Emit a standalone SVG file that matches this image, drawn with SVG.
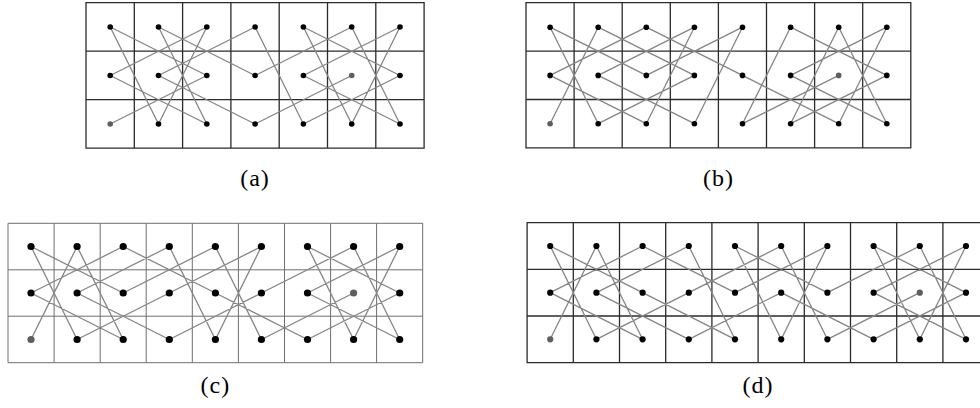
<svg xmlns="http://www.w3.org/2000/svg" width="980" height="408" viewBox="0 0 980 408">
<style>
.grid{fill:none;stroke:#2b2b2b;stroke-width:1.3}
.gridc{fill:none;stroke:#6e6e6e;stroke-width:1}
.tour{fill:none;stroke:#858585;stroke-width:1.3;stroke-linejoin:round}
.dot{fill:#000}
.end{fill:#5e5e5e}
.lbl{font-family:"Liberation Serif","DejaVu Serif",serif;font-size:24px;letter-spacing:1px;fill:#000;text-anchor:middle}
</style>
<rect width="980" height="408" fill="#fff"/>
<g id="grids">
<path class="grid" d="M86 2.7H424.1V148.2H86Z M134.3 2.7V148.2 M182.6 2.7V148.2 M230.9 2.7V148.2 M279.2 2.7V148.2 M327.5 2.7V148.2 M375.8 2.7V148.2 M86 51.2H424.1 M86 99.7H424.1"/>
<path class="grid" d="M526 2.7H910.8V147.9H526Z M574.1 2.7V147.9 M622.2 2.7V147.9 M670.3 2.7V147.9 M718.4 2.7V147.9 M766.5 2.7V147.9 M814.6 2.7V147.9 M862.7 2.7V147.9 M526 51.1H910.8 M526 99.5H910.8"/>
<path class="gridc" d="M8 223.3H422.7V362.7H8Z M54.1 223.3V362.7 M100.2 223.3V362.7 M146.2 223.3V362.7 M192.3 223.3V362.7 M238.4 223.3V362.7 M284.5 223.3V362.7 M330.6 223.3V362.7 M376.6 223.3V362.7 M8 269.8H422.7 M8 316.2H422.7"/>
<path class="grid" d="M527.1 222.7H989.1V362.7H527.1Z M573.3 222.7V362.7 M619.5 222.7V362.7 M665.7 222.7V362.7 M711.9 222.7V362.7 M758.1 222.7V362.7 M804.3 222.7V362.7 M850.5 222.7V362.7 M896.7 222.7V362.7 M942.9 222.7V362.7 M527.1 269.4H989.1 M527.1 316H989.1"/>
</g>
<g id="connectors">
<polyline id="tour-a" class="tour" points="110.2,124 206.8,75.5 110.2,27 158.5,124 206.8,27 110.2,75.5 206.8,124 158.5,27 255.1,75.5 351.7,27 400,124 303.4,75.5 400,27 351.7,124 303.4,27 400,75.5 303.4,124 255.1,27 158.5,75.5 255.1,124 351.7,75.5"/>
<polyline id="tour-b" class="tour" points="550.1,123.7 598.2,27.2 694.4,75.4 598.2,123.7 550.1,27.2 646.3,75.4 742.5,27.2 694.4,123.7 598.2,75.4 694.4,27.2 646.3,123.7 550.1,75.4 646.3,27.2 742.5,75.4 838.7,123.7 886.8,27.2 790.6,75.4 886.8,123.7 838.7,27.2 790.6,123.7 886.8,75.4 790.6,27.2 742.5,123.7 838.7,75.4"/>
<polyline id="tour-c" class="tour" points="31,339.5 77.1,246.5 123.2,339.5 31,293 123.2,246.5 215.4,293 307.5,339.5 399.7,293 307.5,246.5 353.6,339.5 399.7,246.5 307.5,293 399.7,339.5 353.6,246.5 261.4,293 169.3,339.5 77.1,293 169.3,246.5 215.4,339.5 261.4,246.5 169.3,293 77.1,339.5 31,246.5 123.2,293 215.4,246.5 261.4,339.5 353.6,293"/>
<polyline id="tour-d" class="tour" points="550.2,339.3 596.4,246 642.6,339.3 550.2,292.7 642.6,246 735,292.7 827.4,246 781.2,339.3 735,246 827.4,292.7 919.8,246 966,339.3 873.6,292.7 966,246 919.8,339.3 873.6,246 966,292.7 873.6,339.3 781.2,292.7 688.8,339.3 596.4,292.7 688.8,246 735,339.3 642.6,292.7 550.2,246 596.4,339.3 688.8,292.7 781.2,246 827.4,339.3 919.8,292.7"/>
</g>
<g id="nodes-a">
<g id="a-r0c0"><circle class="dot" cx="110.2" cy="27" r="2.8"/></g>
<g id="a-r0c1"><circle class="dot" cx="158.5" cy="27" r="2.8"/></g>
<g id="a-r0c2"><circle class="dot" cx="206.8" cy="27" r="2.8"/></g>
<g id="a-r0c3"><circle class="dot" cx="255.1" cy="27" r="2.8"/></g>
<g id="a-r0c4"><circle class="dot" cx="303.4" cy="27" r="2.8"/></g>
<g id="a-r0c5"><circle class="dot" cx="351.7" cy="27" r="2.8"/></g>
<g id="a-r0c6"><circle class="dot" cx="400" cy="27" r="2.8"/></g>
<g id="a-r1c0"><circle class="dot" cx="110.2" cy="75.5" r="2.8"/></g>
<g id="a-r1c1"><circle class="dot" cx="158.5" cy="75.5" r="2.8"/></g>
<g id="a-r1c2"><circle class="dot" cx="206.8" cy="75.5" r="2.8"/></g>
<g id="a-r1c3"><circle class="dot" cx="255.1" cy="75.5" r="2.8"/></g>
<g id="a-r1c4"><circle class="dot" cx="303.4" cy="75.5" r="2.8"/></g>
<g id="a-r1c5"><circle class="end" cx="351.7" cy="75.5" r="2.8"/></g>
<g id="a-r1c6"><circle class="dot" cx="400" cy="75.5" r="2.8"/></g>
<g id="a-r2c0"><circle class="end" cx="110.2" cy="124" r="2.8"/></g>
<g id="a-r2c1"><circle class="dot" cx="158.5" cy="124" r="2.8"/></g>
<g id="a-r2c2"><circle class="dot" cx="206.8" cy="124" r="2.8"/></g>
<g id="a-r2c3"><circle class="dot" cx="255.1" cy="124" r="2.8"/></g>
<g id="a-r2c4"><circle class="dot" cx="303.4" cy="124" r="2.8"/></g>
<g id="a-r2c5"><circle class="dot" cx="351.7" cy="124" r="2.8"/></g>
<g id="a-r2c6"><circle class="dot" cx="400" cy="124" r="2.8"/></g>
</g>
<g id="nodes-b">
<g id="b-r0c0"><circle class="dot" cx="550.1" cy="27.2" r="2.8"/></g>
<g id="b-r0c1"><circle class="dot" cx="598.2" cy="27.2" r="2.8"/></g>
<g id="b-r0c2"><circle class="dot" cx="646.3" cy="27.2" r="2.8"/></g>
<g id="b-r0c3"><circle class="dot" cx="694.4" cy="27.2" r="2.8"/></g>
<g id="b-r0c4"><circle class="dot" cx="742.5" cy="27.2" r="2.8"/></g>
<g id="b-r0c5"><circle class="dot" cx="790.6" cy="27.2" r="2.8"/></g>
<g id="b-r0c6"><circle class="dot" cx="838.7" cy="27.2" r="2.8"/></g>
<g id="b-r0c7"><circle class="dot" cx="886.8" cy="27.2" r="2.8"/></g>
<g id="b-r1c0"><circle class="dot" cx="550.1" cy="75.4" r="2.8"/></g>
<g id="b-r1c1"><circle class="dot" cx="598.2" cy="75.4" r="2.8"/></g>
<g id="b-r1c2"><circle class="dot" cx="646.3" cy="75.4" r="2.8"/></g>
<g id="b-r1c3"><circle class="dot" cx="694.4" cy="75.4" r="2.8"/></g>
<g id="b-r1c4"><circle class="dot" cx="742.5" cy="75.4" r="2.8"/></g>
<g id="b-r1c5"><circle class="dot" cx="790.6" cy="75.4" r="2.8"/></g>
<g id="b-r1c6"><circle class="end" cx="838.7" cy="75.4" r="2.8"/></g>
<g id="b-r1c7"><circle class="dot" cx="886.8" cy="75.4" r="2.8"/></g>
<g id="b-r2c0"><circle class="end" cx="550.1" cy="123.7" r="2.8"/></g>
<g id="b-r2c1"><circle class="dot" cx="598.2" cy="123.7" r="2.8"/></g>
<g id="b-r2c2"><circle class="dot" cx="646.3" cy="123.7" r="2.8"/></g>
<g id="b-r2c3"><circle class="dot" cx="694.4" cy="123.7" r="2.8"/></g>
<g id="b-r2c4"><circle class="dot" cx="742.5" cy="123.7" r="2.8"/></g>
<g id="b-r2c5"><circle class="dot" cx="790.6" cy="123.7" r="2.8"/></g>
<g id="b-r2c6"><circle class="dot" cx="838.7" cy="123.7" r="2.8"/></g>
<g id="b-r2c7"><circle class="dot" cx="886.8" cy="123.7" r="2.8"/></g>
</g>
<g id="nodes-c">
<g id="c-r0c0"><circle class="dot" cx="31" cy="246.5" r="3.6"/></g>
<g id="c-r0c1"><circle class="dot" cx="77.1" cy="246.5" r="3.6"/></g>
<g id="c-r0c2"><circle class="dot" cx="123.2" cy="246.5" r="3.6"/></g>
<g id="c-r0c3"><circle class="dot" cx="169.3" cy="246.5" r="3.6"/></g>
<g id="c-r0c4"><circle class="dot" cx="215.4" cy="246.5" r="3.6"/></g>
<g id="c-r0c5"><circle class="dot" cx="261.4" cy="246.5" r="3.6"/></g>
<g id="c-r0c6"><circle class="dot" cx="307.5" cy="246.5" r="3.6"/></g>
<g id="c-r0c7"><circle class="dot" cx="353.6" cy="246.5" r="3.6"/></g>
<g id="c-r0c8"><circle class="dot" cx="399.7" cy="246.5" r="3.6"/></g>
<g id="c-r1c0"><circle class="dot" cx="31" cy="293" r="3.6"/></g>
<g id="c-r1c1"><circle class="dot" cx="77.1" cy="293" r="3.6"/></g>
<g id="c-r1c2"><circle class="dot" cx="123.2" cy="293" r="3.6"/></g>
<g id="c-r1c3"><circle class="dot" cx="169.3" cy="293" r="3.6"/></g>
<g id="c-r1c4"><circle class="dot" cx="215.4" cy="293" r="3.6"/></g>
<g id="c-r1c5"><circle class="dot" cx="261.4" cy="293" r="3.6"/></g>
<g id="c-r1c6"><circle class="dot" cx="307.5" cy="293" r="3.6"/></g>
<g id="c-r1c7"><circle class="end" cx="353.6" cy="293" r="3.6"/></g>
<g id="c-r1c8"><circle class="dot" cx="399.7" cy="293" r="3.6"/></g>
<g id="c-r2c0"><circle class="end" cx="31" cy="339.5" r="3.6"/></g>
<g id="c-r2c1"><circle class="dot" cx="77.1" cy="339.5" r="3.6"/></g>
<g id="c-r2c2"><circle class="dot" cx="123.2" cy="339.5" r="3.6"/></g>
<g id="c-r2c3"><circle class="dot" cx="169.3" cy="339.5" r="3.6"/></g>
<g id="c-r2c4"><circle class="dot" cx="215.4" cy="339.5" r="3.6"/></g>
<g id="c-r2c5"><circle class="dot" cx="261.4" cy="339.5" r="3.6"/></g>
<g id="c-r2c6"><circle class="dot" cx="307.5" cy="339.5" r="3.6"/></g>
<g id="c-r2c7"><circle class="dot" cx="353.6" cy="339.5" r="3.6"/></g>
<g id="c-r2c8"><circle class="dot" cx="399.7" cy="339.5" r="3.6"/></g>
</g>
<g id="nodes-d">
<g id="d-r0c0"><circle class="dot" cx="550.2" cy="246" r="3.1"/></g>
<g id="d-r0c1"><circle class="dot" cx="596.4" cy="246" r="3.1"/></g>
<g id="d-r0c2"><circle class="dot" cx="642.6" cy="246" r="3.1"/></g>
<g id="d-r0c3"><circle class="dot" cx="688.8" cy="246" r="3.1"/></g>
<g id="d-r0c4"><circle class="dot" cx="735" cy="246" r="3.1"/></g>
<g id="d-r0c5"><circle class="dot" cx="781.2" cy="246" r="3.1"/></g>
<g id="d-r0c6"><circle class="dot" cx="827.4" cy="246" r="3.1"/></g>
<g id="d-r0c7"><circle class="dot" cx="873.6" cy="246" r="3.1"/></g>
<g id="d-r0c8"><circle class="dot" cx="919.8" cy="246" r="3.1"/></g>
<g id="d-r0c9"><circle class="dot" cx="966" cy="246" r="3.1"/></g>
<g id="d-r1c0"><circle class="dot" cx="550.2" cy="292.7" r="3.1"/></g>
<g id="d-r1c1"><circle class="dot" cx="596.4" cy="292.7" r="3.1"/></g>
<g id="d-r1c2"><circle class="dot" cx="642.6" cy="292.7" r="3.1"/></g>
<g id="d-r1c3"><circle class="dot" cx="688.8" cy="292.7" r="3.1"/></g>
<g id="d-r1c4"><circle class="dot" cx="735" cy="292.7" r="3.1"/></g>
<g id="d-r1c5"><circle class="dot" cx="781.2" cy="292.7" r="3.1"/></g>
<g id="d-r1c6"><circle class="dot" cx="827.4" cy="292.7" r="3.1"/></g>
<g id="d-r1c7"><circle class="dot" cx="873.6" cy="292.7" r="3.1"/></g>
<g id="d-r1c8"><circle class="end" cx="919.8" cy="292.7" r="3.1"/></g>
<g id="d-r1c9"><circle class="dot" cx="966" cy="292.7" r="3.1"/></g>
<g id="d-r2c0"><circle class="end" cx="550.2" cy="339.3" r="3.1"/></g>
<g id="d-r2c1"><circle class="dot" cx="596.4" cy="339.3" r="3.1"/></g>
<g id="d-r2c2"><circle class="dot" cx="642.6" cy="339.3" r="3.1"/></g>
<g id="d-r2c3"><circle class="dot" cx="688.8" cy="339.3" r="3.1"/></g>
<g id="d-r2c4"><circle class="dot" cx="735" cy="339.3" r="3.1"/></g>
<g id="d-r2c5"><circle class="dot" cx="781.2" cy="339.3" r="3.1"/></g>
<g id="d-r2c6"><circle class="dot" cx="827.4" cy="339.3" r="3.1"/></g>
<g id="d-r2c7"><circle class="dot" cx="873.6" cy="339.3" r="3.1"/></g>
<g id="d-r2c8"><circle class="dot" cx="919.8" cy="339.3" r="3.1"/></g>
<g id="d-r2c9"><circle class="dot" cx="966" cy="339.3" r="3.1"/></g>
</g>
<g id="labels">
<text class="lbl" x="255" y="186">(a)</text>
<text class="lbl" x="718.4" y="186">(b)</text>
<text class="lbl" x="215.4" y="393">(c)</text>
<text class="lbl" x="758" y="393">(d)</text>
</g>
</svg>
